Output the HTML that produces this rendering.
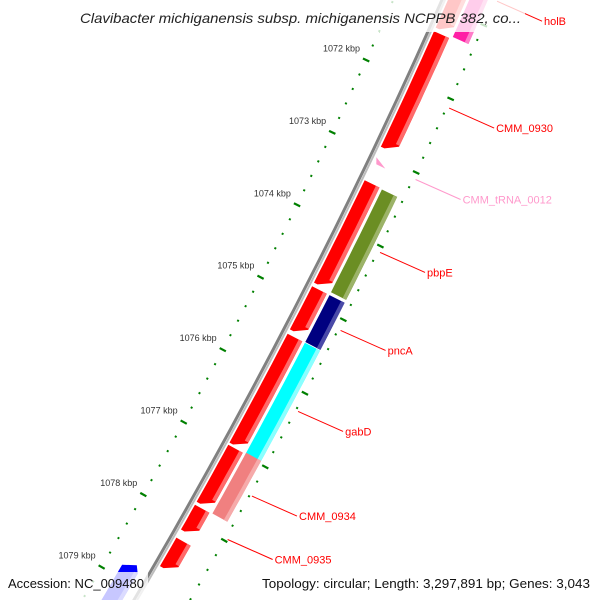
<!DOCTYPE html>
<html><head><meta charset="utf-8"><style>
html,body{margin:0;padding:0;background:#fff;width:600px;height:600px;overflow:hidden;}
svg{display:block;font-family:"Liberation Sans",sans-serif;overflow:hidden;}
</style></head><body>
<svg id="map" width="600" height="600" viewBox="0 0 600 600" xmlns="http://www.w3.org/2000/svg">
<g id="ruler"></g>
<g id="backbone"></g>
<g id="features"></g>
<g id="labels"></g>
<rect x="75" y="0" width="450" height="32" fill="#fff" opacity="0.78"/>
<text x="80" y="23" font-size="14" font-style="italic" fill="#222" textLength="441" lengthAdjust="spacingAndGlyphs">Clavibacter michiganensis subsp. michiganensis NCPPB 382, co...</text>
<rect x="3" y="572" width="145" height="28" fill="#fff" opacity="0.78"/>
<text x="8" y="588" font-size="13" fill="#111" textLength="136" lengthAdjust="spacingAndGlyphs">Accession: NC_009480</text>
<rect x="256" y="572" width="340" height="28" fill="#fff" opacity="0.78"/>
<text x="262" y="588" font-size="13" fill="#111" textLength="328" lengthAdjust="spacingAndGlyphs">Topology: circular; Length: 3,297,891 bp; Genes: 3,043</text>
</svg>
<script>
// ---- data ----
const rulerKbp = [1071, 1072, 1073, 1074, 1075, 1076, 1077, 1078, 1079, 1080];
const rulerLabels = ["1071 kbp","1072 kbp","1073 kbp","1074 kbp","1075 kbp","1076 kbp","1077 kbp","1078 kbp","1079 kbp","1080 kbp"];
const geneNames = ["CMM_0929","CMM_0930","CMM_0931","CMM_0932","CMM_0933","CMM_0934b","CMM_0935","CMM_0936","holB","CMM_tRNA_0012","pbpE","pncA","gabD","CMM_0934","CMM_0937"];
const geneStart = [1070.5,1071.28,1073.32,1074.77,1075.42,1076.94,1077.76,1078.21,1070.5,1073.0,1073.33,1074.77,1075.42,1076.92,1078.73];
const geneEnd   = [1071.23,1072.86,1074.72,1075.36,1076.91,1077.72,1078.10,1078.60,1071.25,1073.08,1074.73,1075.41,1076.96,1077.75,1079.8];
const geneTrack = [1,1,1,1,1,1,1,1,2,0,2,2,2,2,-1];
const geneColor = ["#ff0000","#ff0000","#ff0000","#ff0000","#ff0000","#ff0000","#ff0000","#ff0000","#ff1fa5","#ff99cc","#6b8e23","#000080","#00ffff","#f08080","#0000ff"];
const labelText = ["holB","CMM_0930","CMM_tRNA_0012","pbpE","pncA","gabD","CMM_0934","CMM_0935"];
const labelKbp  = [1070.62,1072.07,1073.04,1074.03,1075.09,1076.19,1077.34,1077.93];
const labelColor= ["#ff0000","#ff0000","#ff99cc","#ff0000","#ff0000","#ff0000","#ff0000","#ff0000"];

// ---- geometry ----
const NS="http://www.w3.org/2000/svg";
function kToS(k){return 79+(k-1072)*73;}
const geneShift=3;
function xb(s){return 443-0.44*s-0.000122*s*s;}
function xbd(s){return -0.44-0.000244*s;}
function P(s,d){const t=xbd(s),L=Math.sqrt(1+t*t);return [xb(s)+d/L, s-d*t/L];}
function mk(tag,attrs,parent){const e=document.createElementNS(NS,tag);for(const k in attrs)e.setAttribute(k,attrs[k]);parent.appendChild(e);return e;}
function band(s0,s1,d1,d2){const pts=[];const n=Math.max(2,Math.ceil((s1-s0)/10));
 for(let i=0;i<=n;i++){pts.push(P(s0+(s1-s0)*i/n,d1));}
 for(let i=n;i>=0;i--){pts.push(P(s0+(s1-s0)*i/n,d2));}
 return pts.map(p=>p[0].toFixed(1)+","+p[1].toFixed(1)).join(" ");}
function ptsStr(a){return a.map(p=>p[0].toFixed(1)+","+p[1].toFixed(1)).join(" ");}

// backbone
const bb=document.getElementById('backbone');
function line(d){const a=[];for(let s=-60;s<=640;s+=10)a.push(P(s,d));return ptsStr(a);}
let e=mk('polyline',{points:line(-1),fill:'none',stroke:'#808080','stroke-width':3},bb);

e=mk('polyline',{points:line(1.8),fill:'none',stroke:'#bdbdbd','stroke-width':2},bb);


// ruler
const rg=document.getElementById('ruler');
for(let i=0;i<rulerKbp.length;i++){
 for(let j=0;j<5;j++){
  const s=kToS(rulerKbp[i]+j*0.2);
  if(s<-30||s>630)continue;
  [[-49,-42],[44,51]].forEach((r,side)=>{
   let a,b;
   if(j===0){a=P(s,r[0]);b=P(s,r[1]);}
   else{const m=(r[0]+r[1])/2;a=P(s,m-1);b=P(s,m+1);}
   const t=mk('line',{x1:a[0],y1:a[1],x2:b[0],y2:b[1],stroke:'#008000','stroke-width':j===0?2.2:2},rg);
   
   
  });
  if(j===0){const a=P(s,-49);
   const tx=mk('text',{x:(a[0]-3).toFixed(1),y:(a[1]-7).toFixed(1),'font-size':9,fill:'#333','text-anchor':'end'},rg);
   tx.textContent=rulerLabels[i];
   
   }
 }
}

// features
const fg=document.getElementById('features');
const tracks={1:[4.5,21],2:[24,41],'-1':[-29,-11],0:[5,18]};
function lighten(c){const map={"#ff0000":"#ff6a6a","#ff1fa5":"#ff7cc8","#6b8e23":"#9cb368","#000080":"#4a4aa8","#00ffff":"#8affff","#f08080":"#f6aaaa","#0000ff":"#5a5aff","#ff99cc":"#ffc0e0"};return map[c]||c;}
for(let i=0;i<geneNames.length;i++){
 const s0=kToS(geneStart[i])+geneShift;
 const s1=Math.min(kToS(geneEnd[i])+geneShift,640);
 const tr=geneTrack[i];const [d1,d2]=tracks[tr];
 const g=mk('g',{},fg);
 
 
 let p;
 if(tr===1){
  const a=[];const n=Math.max(2,Math.ceil((s1-s0)/10));
  for(let k=0;k<=n;k++)a.push(P(s0+(s1-7-s0)*k/n,d2));
  a.push(P(s1,d1+4));a.push(P(s1,d1));
  for(let k=n;k>=0;k--)a.push(P(s0+(s1-s0)*k/n*((s1-1-s0)/(s1-s0)),d1));
  p=mk('polygon',{points:ptsStr(a),fill:geneColor[i]},g);
  const st=[];for(let k=0;k<=n;k++)st.push(P(s0+(s1-8-s0)*k/n,d2));
  for(let k=n;k>=0;k--)st.push(P(s0+(s1-8-s0)*k/n,d2-4));
  const q=mk('polygon',{points:ptsStr(st),fill:lighten(geneColor[i])},g);
  
 } else if(tr===-1){
  const a=[P(s0,(d1+d2)/2+4)];
  const n=Math.max(2,Math.ceil((s1-s0)/10));
  for(let k=0;k<=n;k++)a.push(P(s0+6+(s1-s0-6)*k/n,d2));
  for(let k=n;k>=0;k--)a.push(P(s0+6+(s1-s0-6)*k/n,d1));
  p=mk('polygon',{points:ptsStr(a),fill:geneColor[i]},g);
  const q=mk('polygon',{points:band(s0+6,s1,d2-4,d2),fill:lighten(geneColor[i])},g);
  
 } else if(tr===0){
  p=mk('polygon',{points:ptsStr([P(s0,d1),P(s1,d1+3),P(s1,d2)]),fill:geneColor[i]},g);
 } else {
  p=mk('polygon',{points:band(s0,s1,d1,d2),fill:geneColor[i]},g);
  const q=mk('polygon',{points:band(s0,s1,d2-4,d2),fill:lighten(geneColor[i])},g);
  
 }
 
 
}

// labels
const lg=document.getElementById('labels');
for(let i=0;i<labelText.length;i++){
 const a=P(kToS(labelKbp[i])+geneShift,50);const b=[a[0]+45,a[1]+20];
 const l=mk('line',{x1:a[0],y1:a[1],x2:b[0],y2:b[1],stroke:labelColor[i],'stroke-width':1},lg);
 
 
 const t=mk('text',{x:(b[0]+2).toFixed(1),y:(b[1]+4).toFixed(1),'font-size':11,fill:labelColor[i]},lg);
 t.textContent=labelText[i];
 
 
}
</script>
</body></html>
